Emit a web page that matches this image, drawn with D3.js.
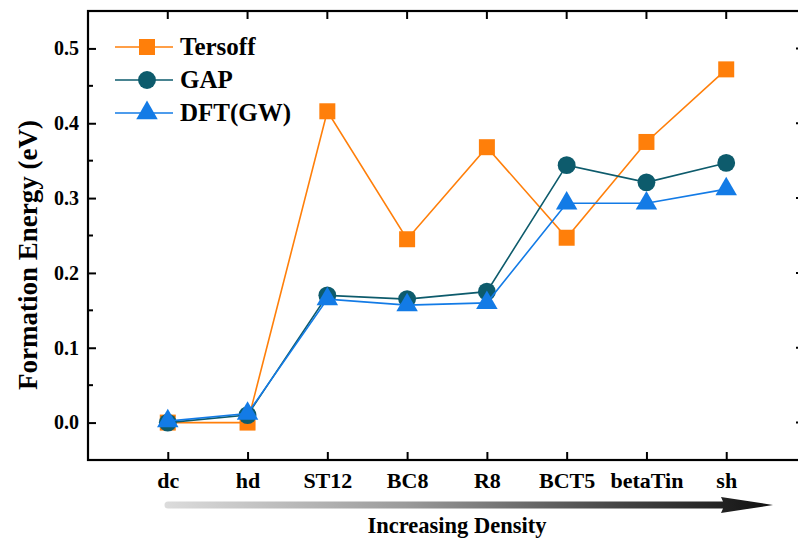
<!DOCTYPE html>
<html>
<head>
<meta charset="utf-8">
<script src="https://cdn.jsdelivr.net/npm/d3@7"></script>
<style>
  body { margin: 0; background: #fff; }
  svg text { font-family: "Liberation Serif", "Times New Roman", serif; font-weight: bold; fill: #000; }
</style>
</head>
<body>
<div id="chart"></div>
<script>
// structures, ordered by density
const phases = ["dc", "hd", "ST12", "BC8", "R8", "BCT5", "betaTin", "sh"];
const tersoff = [0.0, 0.0, 0.416, 0.245, 0.368, 0.247, 0.375, 0.472];
const gap = [0.0, 0.010, 0.170, 0.165, 0.175, 0.344, 0.321, 0.347];
const dftgw = [0.002, 0.012, 0.165, 0.157, 0.160, 0.293, 0.293, 0.312];
const yTicks = [0.0, 0.1, 0.2, 0.3, 0.4, 0.5];

const series = [
    { name: "Tersoff", values: tersoff, color: "#ff7f0a", symbol: d3.symbolSquare, size: 256 },
    { name: "GAP", values: gap, color: "#0d5b6c", symbol: d3.symbolCircle, size: 250 },
    { name: "DFT(GW)", values: dftgw, color: "#137be6", symbol: d3.symbolTriangle, size: 200 }
];

const W = 798, H = 541;
const margin = { top: 11, right: -8, bottom: 81, left: 88 };
const width = W - margin.left - margin.right;
const height = H - margin.top - margin.bottom;
const serif = '"Liberation Serif", "Times New Roman", serif';

const svg = d3.select("#chart").append("svg")
    .attr("width", W)
    .attr("height", H);

const chart = svg.append("g")
    .attr("transform", `translate(${margin.left},${margin.top})`);

// scales: categories sit at 1..8 on a 0..9 axis
const x = d3.scaleLinear().domain([0, phases.length + 1]).range([0, width]);
const y = d3.scaleLinear().domain([-0.05, 0.55]).range([height, 0]);

// frame
chart.append("rect")
    .attr("width", width).attr("height", height)
    .attr("fill", "none").attr("stroke", "#000").attr("stroke-width", 2.2);

const minor = [-0.05, 0.05, 0.15, 0.25, 0.35, 0.45];

// left axis, ticks inward
const yLeft = chart.append("g")
    .attr("font-family", serif)
    .call(d3.axisLeft(y).tickValues(yTicks).tickFormat(d3.format(".1f")).tickSizeInner(-8).tickSizeOuter(0).tickPadding(9));
yLeft.select(".domain").remove();
yLeft.selectAll("line").attr("stroke-width", 2);
yLeft.selectAll("text").attr("font-size", 20);
chart.append("g").selectAll("line").data(minor).join("line")
    .attr("x1", 0).attr("x2", 5).attr("y1", d => y(d)).attr("y2", d => y(d))
    .attr("stroke", "#000").attr("stroke-width", 2);

// right axis ticks (axis line is outside the window)
chart.append("g").selectAll("line").data(yTicks).join("line")
    .attr("x1", width).attr("x2", width - 10).attr("y1", d => y(d)).attr("y2", d => y(d))
    .attr("stroke", "#000").attr("stroke-width", 2);
chart.append("g").selectAll("line").data(minor).join("line")
    .attr("x1", width).attr("x2", width - 6).attr("y1", d => y(d)).attr("y2", d => y(d))
    .attr("stroke", "#000").attr("stroke-width", 2);

// bottom axis, ticks inward
const xBottom = chart.append("g")
    .attr("transform", `translate(0,${height})`)
    .attr("font-family", serif)
    .call(d3.axisBottom(x).tickValues(d3.range(1, phases.length + 1))
        .tickFormat(d => phases[d - 1]).tickSizeInner(-8).tickSizeOuter(0).tickPadding(12));
xBottom.select(".domain").remove();
xBottom.selectAll("line").attr("stroke-width", 2);
xBottom.selectAll("text").attr("font-size", 22);

// top ticks
chart.append("g").selectAll("line").data(d3.range(1, phases.length + 1)).join("line")
    .attr("x1", d => x(d)).attr("x2", d => x(d)).attr("y1", 0).attr("y2", 8)
    .attr("stroke", "#000").attr("stroke-width", 2);

// y title
svg.append("text")
    .attr("transform", "translate(37,255) rotate(-90)")
    .attr("text-anchor", "middle")
    .attr("font-family", serif)
    .attr("font-size", 27)
    .text("Formation Energy (eV)");

// series
const line = d3.line().x((d, i) => x(i + 1)).y(d => y(d));
series.forEach(s => {
    chart.append("path")
        .datum(s.values)
        .attr("d", line)
        .attr("fill", "none")
        .attr("stroke", s.color)
        .attr("stroke-width", 1.6);
    chart.append("g").selectAll("path").data(s.values).join("path")
        .attr("transform", (d, i) => `translate(${x(i + 1)},${y(d)})`)
        .attr("d", d3.symbol().type(s.symbol).size(s.size))
        .attr("fill", s.color);
});

// legend
const legend = svg.append("g").attr("transform", "translate(115,47)");
series.forEach((s, i) => {
    const row = legend.append("g").attr("transform", `translate(0,${i * 33})`);
    row.append("line").attr("x1", 0).attr("x2", 58).attr("stroke", s.color).attr("stroke-width", 1.6);
    row.append("path").attr("transform", "translate(32,0)")
        .attr("d", d3.symbol().type(s.symbol).size(s.size)).attr("fill", s.color);
    row.append("text").attr("x", 65).attr("y", 8)
        .attr("font-family", serif).attr("font-size", 25).text(s.name);
});

// density arrow
const defs = svg.append("defs");
const grad = defs.append("linearGradient").attr("id", "arrowGrad");
grad.append("stop").attr("offset", "0%").attr("stop-color", "#dcdcdc");
grad.append("stop").attr("offset", "40%").attr("stop-color", "#9a9a9a");
grad.append("stop").attr("offset", "75%").attr("stop-color", "#444");
grad.append("stop").attr("offset", "100%").attr("stop-color", "#111");
const ay = 505;
svg.append("path")
    .attr("d", `M168,${ay - 3.5} L723,${ay - 3.5} L721,${ay - 8} L773,${ay} L721,${ay + 8} L723,${ay + 3.5} L168,${ay + 3.5} A3.5,3.5 0 0 1 168,${ay - 3.5} Z`)
    .attr("fill", "url(#arrowGrad)");

svg.append("text")
    .attr("x", 457).attr("y", 533)
    .attr("text-anchor", "middle")
    .attr("font-family", serif)
    .attr("font-size", 22.5)
    .text("Increasing Density");
</script>
</body>
</html>
